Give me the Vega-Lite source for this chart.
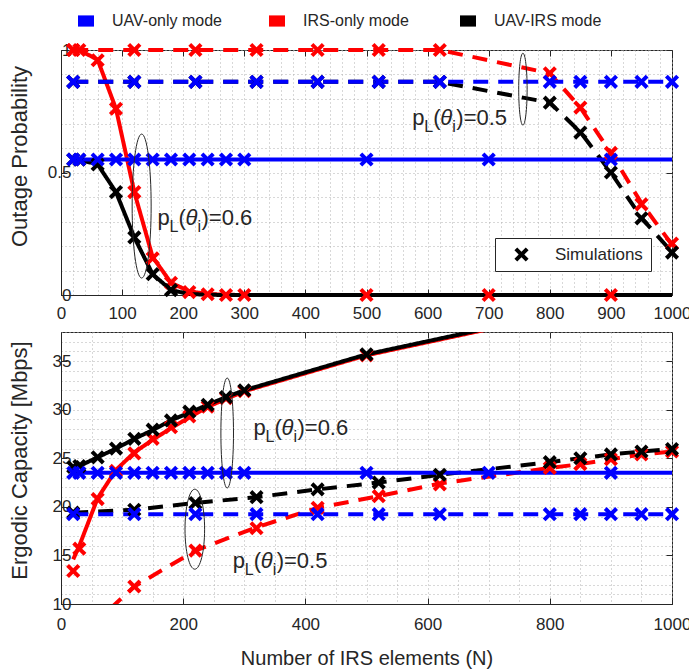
{
  "$schema": "https://vega.github.io/schema/vega-lite/v6.json",
  "autosize": {"type": "pad"},
  "padding": {"left": 7, "top": 13, "right": 0, "bottom": 0},
  "background": "white",
  "config": {
    "font": "Liberation Sans",
    "view": {"stroke": "#262626", "strokeWidth": 1},
    "axis": {
      "labelFont": "Liberation Sans",
      "labelFontSize": 17,
      "labelColor": "#262626",
      "titleFont": "Liberation Sans",
      "titleFontWeight": "normal",
      "titleColor": "#262626",
      "domainColor": "#262626",
      "tickColor": "#262626",
      "gridColor": "#b0b0b0",
      "gridDash": [1, 3],
      "gridWidth": 1,
      "tickSize": -6,
      "labelOverlap": false,
      "labelFlush": false
    }
  },
  "datasets": {
    "outage": [
      {"N": 20, "mode": "IRS-only mode", "p": "0.6", "ana": 1, "sim": 1},
      {"N": 30, "mode": "IRS-only mode", "p": "0.6", "ana": 1, "sim": 1},
      {"N": 60, "mode": "IRS-only mode", "p": "0.6", "ana": 0.96, "sim": 0.958},
      {"N": 90, "mode": "IRS-only mode", "p": "0.6", "ana": 0.76, "sim": 0.76},
      {"N": 120, "mode": "IRS-only mode", "p": "0.6", "ana": 0.42, "sim": 0.42},
      {"N": 150, "mode": "IRS-only mode", "p": "0.6", "ana": 0.155, "sim": 0.15},
      {"N": 180, "mode": "IRS-only mode", "p": "0.6", "ana": 0.05, "sim": 0.05},
      {"N": 210, "mode": "IRS-only mode", "p": "0.6", "ana": 0.015, "sim": 0.012},
      {"N": 240, "mode": "IRS-only mode", "p": "0.6", "ana": 0.004, "sim": 0.003},
      {"N": 270, "mode": "IRS-only mode", "p": "0.6", "ana": 0.001, "sim": 0},
      {"N": 300, "mode": "IRS-only mode", "p": "0.6", "ana": 0, "sim": 0},
      {"N": 500, "mode": "IRS-only mode", "p": "0.6", "ana": 0, "sim": 0},
      {"N": 700, "mode": "IRS-only mode", "p": "0.6", "ana": 0, "sim": 0},
      {"N": 900, "mode": "IRS-only mode", "p": "0.6", "ana": 0, "sim": 0},
      {"N": 1000, "mode": "IRS-only mode", "p": "0.6", "ana": 0, "sim": null},
      {"N": 20, "mode": "IRS-only mode", "p": "0.5", "ana": 1, "sim": 1},
      {"N": 120, "mode": "IRS-only mode", "p": "0.5", "ana": 1, "sim": 1},
      {"N": 220, "mode": "IRS-only mode", "p": "0.5", "ana": 1, "sim": 1},
      {"N": 320, "mode": "IRS-only mode", "p": "0.5", "ana": 1, "sim": 1},
      {"N": 420, "mode": "IRS-only mode", "p": "0.5", "ana": 1, "sim": 1},
      {"N": 520, "mode": "IRS-only mode", "p": "0.5", "ana": 1, "sim": 1},
      {"N": 620, "mode": "IRS-only mode", "p": "0.5", "ana": 1, "sim": 1},
      {"N": 800, "mode": "IRS-only mode", "p": "0.5", "ana": 0.905, "sim": 0.905},
      {"N": 850, "mode": "IRS-only mode", "p": "0.5", "ana": 0.765, "sim": 0.765},
      {"N": 900, "mode": "IRS-only mode", "p": "0.5", "ana": 0.58, "sim": 0.58},
      {"N": 950, "mode": "IRS-only mode", "p": "0.5", "ana": 0.375, "sim": 0.37},
      {"N": 1000, "mode": "IRS-only mode", "p": "0.5", "ana": 0.205, "sim": 0.21},
      {"N": 20, "mode": "UAV-IRS mode", "p": "0.6", "ana": 0.553, "sim": 0.553},
      {"N": 30, "mode": "UAV-IRS mode", "p": "0.6", "ana": 0.552, "sim": 0.552},
      {"N": 60, "mode": "UAV-IRS mode", "p": "0.6", "ana": 0.533, "sim": 0.533},
      {"N": 90, "mode": "UAV-IRS mode", "p": "0.6", "ana": 0.42, "sim": 0.42},
      {"N": 120, "mode": "UAV-IRS mode", "p": "0.6", "ana": 0.235, "sim": 0.235},
      {"N": 150, "mode": "UAV-IRS mode", "p": "0.6", "ana": 0.085, "sim": 0.085},
      {"N": 180, "mode": "UAV-IRS mode", "p": "0.6", "ana": 0.02, "sim": 0.02},
      {"N": 210, "mode": "UAV-IRS mode", "p": "0.6", "ana": 0.004, "sim": null},
      {"N": 240, "mode": "UAV-IRS mode", "p": "0.6", "ana": 0.001, "sim": null},
      {"N": 270, "mode": "UAV-IRS mode", "p": "0.6", "ana": 0, "sim": null},
      {"N": 300, "mode": "UAV-IRS mode", "p": "0.6", "ana": 0, "sim": null},
      {"N": 500, "mode": "UAV-IRS mode", "p": "0.6", "ana": 0, "sim": null},
      {"N": 700, "mode": "UAV-IRS mode", "p": "0.6", "ana": 0, "sim": null},
      {"N": 900, "mode": "UAV-IRS mode", "p": "0.6", "ana": 0, "sim": null},
      {"N": 1000, "mode": "UAV-IRS mode", "p": "0.6", "ana": 0, "sim": null},
      {"N": 20, "mode": "UAV-IRS mode", "p": "0.5", "ana": 0.87, "sim": 0.87},
      {"N": 120, "mode": "UAV-IRS mode", "p": "0.5", "ana": 0.87, "sim": 0.87},
      {"N": 220, "mode": "UAV-IRS mode", "p": "0.5", "ana": 0.87, "sim": 0.87},
      {"N": 320, "mode": "UAV-IRS mode", "p": "0.5", "ana": 0.87, "sim": 0.87},
      {"N": 420, "mode": "UAV-IRS mode", "p": "0.5", "ana": 0.87, "sim": 0.87},
      {"N": 520, "mode": "UAV-IRS mode", "p": "0.5", "ana": 0.87, "sim": 0.87},
      {"N": 620, "mode": "UAV-IRS mode", "p": "0.5", "ana": 0.87, "sim": 0.87},
      {"N": 800, "mode": "UAV-IRS mode", "p": "0.5", "ana": 0.785, "sim": 0.785},
      {"N": 850, "mode": "UAV-IRS mode", "p": "0.5", "ana": 0.665, "sim": 0.663},
      {"N": 900, "mode": "UAV-IRS mode", "p": "0.5", "ana": 0.5, "sim": 0.5},
      {"N": 950, "mode": "UAV-IRS mode", "p": "0.5", "ana": 0.315, "sim": 0.313},
      {"N": 1000, "mode": "UAV-IRS mode", "p": "0.5", "ana": 0.175, "sim": 0.173},
      {"N": 20, "mode": "UAV-only mode", "p": "0.6", "ana": 0.553, "sim": 0.553},
      {"N": 30, "mode": "UAV-only mode", "p": "0.6", "ana": 0.553, "sim": 0.553},
      {"N": 60, "mode": "UAV-only mode", "p": "0.6", "ana": 0.553, "sim": 0.553},
      {"N": 90, "mode": "UAV-only mode", "p": "0.6", "ana": 0.553, "sim": 0.553},
      {"N": 120, "mode": "UAV-only mode", "p": "0.6", "ana": 0.553, "sim": 0.553},
      {"N": 150, "mode": "UAV-only mode", "p": "0.6", "ana": 0.553, "sim": 0.553},
      {"N": 180, "mode": "UAV-only mode", "p": "0.6", "ana": 0.553, "sim": 0.553},
      {"N": 210, "mode": "UAV-only mode", "p": "0.6", "ana": 0.553, "sim": 0.553},
      {"N": 240, "mode": "UAV-only mode", "p": "0.6", "ana": 0.553, "sim": 0.553},
      {"N": 270, "mode": "UAV-only mode", "p": "0.6", "ana": 0.553, "sim": 0.553},
      {"N": 300, "mode": "UAV-only mode", "p": "0.6", "ana": 0.553, "sim": 0.553},
      {"N": 500, "mode": "UAV-only mode", "p": "0.6", "ana": 0.553, "sim": 0.553},
      {"N": 700, "mode": "UAV-only mode", "p": "0.6", "ana": 0.553, "sim": 0.553},
      {"N": 900, "mode": "UAV-only mode", "p": "0.6", "ana": 0.553, "sim": 0.553},
      {"N": 1000, "mode": "UAV-only mode", "p": "0.6", "ana": 0.553, "sim": null},
      {"N": 20, "mode": "UAV-only mode", "p": "0.5", "ana": 0.87, "sim": 0.87},
      {"N": 120, "mode": "UAV-only mode", "p": "0.5", "ana": 0.87, "sim": 0.87},
      {"N": 220, "mode": "UAV-only mode", "p": "0.5", "ana": 0.87, "sim": 0.87},
      {"N": 320, "mode": "UAV-only mode", "p": "0.5", "ana": 0.87, "sim": 0.87},
      {"N": 420, "mode": "UAV-only mode", "p": "0.5", "ana": 0.87, "sim": 0.87},
      {"N": 520, "mode": "UAV-only mode", "p": "0.5", "ana": 0.87, "sim": 0.87},
      {"N": 620, "mode": "UAV-only mode", "p": "0.5", "ana": 0.87, "sim": 0.87},
      {"N": 800, "mode": "UAV-only mode", "p": "0.5", "ana": 0.87, "sim": 0.87},
      {"N": 850, "mode": "UAV-only mode", "p": "0.5", "ana": 0.87, "sim": 0.87},
      {"N": 900, "mode": "UAV-only mode", "p": "0.5", "ana": 0.87, "sim": 0.87},
      {"N": 950, "mode": "UAV-only mode", "p": "0.5", "ana": 0.87, "sim": 0.87},
      {"N": 1000, "mode": "UAV-only mode", "p": "0.5", "ana": 0.87, "sim": 0.87}
    ],
    "capacity": [
      {"N": 20, "mode": "IRS-only mode", "p": "0.6", "ana": 14.6, "sim": 13.4},
      {"N": 30, "mode": "IRS-only mode", "p": "0.6", "ana": 16.0, "sim": 15.7},
      {"N": 60, "mode": "IRS-only mode", "p": "0.6", "ana": 20.9, "sim": 20.8},
      {"N": 90, "mode": "IRS-only mode", "p": "0.6", "ana": 23.8, "sim": 23.7},
      {"N": 120, "mode": "IRS-only mode", "p": "0.6", "ana": 25.6, "sim": 25.5},
      {"N": 150, "mode": "IRS-only mode", "p": "0.6", "ana": 26.9, "sim": 27.0},
      {"N": 180, "mode": "IRS-only mode", "p": "0.6", "ana": 28.1, "sim": 28.2},
      {"N": 210, "mode": "IRS-only mode", "p": "0.6", "ana": 29.2, "sim": 29.3},
      {"N": 240, "mode": "IRS-only mode", "p": "0.6", "ana": 30.3, "sim": 30.3},
      {"N": 270, "mode": "IRS-only mode", "p": "0.6", "ana": 31.1, "sim": 31.2},
      {"N": 300, "mode": "IRS-only mode", "p": "0.6", "ana": 31.9, "sim": 31.9},
      {"N": 500, "mode": "IRS-only mode", "p": "0.6", "ana": 35.6, "sim": 35.6},
      {"N": 700, "mode": "IRS-only mode", "p": "0.6", "ana": 38.3, "sim": null},
      {"N": 900, "mode": "IRS-only mode", "p": "0.6", "ana": 40.6, "sim": null},
      {"N": 1000, "mode": "IRS-only mode", "p": "0.6", "ana": 41.5, "sim": null},
      {"N": 20, "mode": "IRS-only mode", "p": "0.5", "ana": 6.0, "sim": null},
      {"N": 120, "mode": "IRS-only mode", "p": "0.5", "ana": 11.8, "sim": 11.8},
      {"N": 220, "mode": "IRS-only mode", "p": "0.5", "ana": 15.5, "sim": 15.5},
      {"N": 320, "mode": "IRS-only mode", "p": "0.5", "ana": 17.9, "sim": 17.8},
      {"N": 420, "mode": "IRS-only mode", "p": "0.5", "ana": 19.9, "sim": 19.9},
      {"N": 520, "mode": "IRS-only mode", "p": "0.5", "ana": 21.1, "sim": 21.1},
      {"N": 620, "mode": "IRS-only mode", "p": "0.5", "ana": 22.4, "sim": 22.3},
      {"N": 800, "mode": "IRS-only mode", "p": "0.5", "ana": 24.0, "sim": 24.0},
      {"N": 850, "mode": "IRS-only mode", "p": "0.5", "ana": 24.4, "sim": 24.4},
      {"N": 900, "mode": "IRS-only mode", "p": "0.5", "ana": 24.9, "sim": 24.9},
      {"N": 950, "mode": "IRS-only mode", "p": "0.5", "ana": 25.4, "sim": 25.4},
      {"N": 1000, "mode": "IRS-only mode", "p": "0.5", "ana": 25.7, "sim": 25.7},
      {"N": 20, "mode": "UAV-IRS mode", "p": "0.6", "ana": 24.0, "sim": 24.1},
      {"N": 30, "mode": "UAV-IRS mode", "p": "0.6", "ana": 24.2, "sim": 24.2},
      {"N": 60, "mode": "UAV-IRS mode", "p": "0.6", "ana": 25.1, "sim": 25.1},
      {"N": 90, "mode": "UAV-IRS mode", "p": "0.6", "ana": 26.0, "sim": 26.0},
      {"N": 120, "mode": "UAV-IRS mode", "p": "0.6", "ana": 27.0, "sim": 27.0},
      {"N": 150, "mode": "UAV-IRS mode", "p": "0.6", "ana": 27.9, "sim": 27.95},
      {"N": 180, "mode": "UAV-IRS mode", "p": "0.6", "ana": 28.9, "sim": 28.9},
      {"N": 210, "mode": "UAV-IRS mode", "p": "0.6", "ana": 29.7, "sim": 29.8},
      {"N": 240, "mode": "UAV-IRS mode", "p": "0.6", "ana": 30.5, "sim": 30.5},
      {"N": 270, "mode": "UAV-IRS mode", "p": "0.6", "ana": 31.3, "sim": 31.3},
      {"N": 300, "mode": "UAV-IRS mode", "p": "0.6", "ana": 32.0, "sim": 32.0},
      {"N": 500, "mode": "UAV-IRS mode", "p": "0.6", "ana": 35.7, "sim": 35.7},
      {"N": 700, "mode": "UAV-IRS mode", "p": "0.6", "ana": 38.4, "sim": null},
      {"N": 900, "mode": "UAV-IRS mode", "p": "0.6", "ana": 40.7, "sim": null},
      {"N": 1000, "mode": "UAV-IRS mode", "p": "0.6", "ana": 41.6, "sim": null},
      {"N": 20, "mode": "UAV-IRS mode", "p": "0.5", "ana": 19.4, "sim": 19.4},
      {"N": 120, "mode": "UAV-IRS mode", "p": "0.5", "ana": 19.7, "sim": 19.7},
      {"N": 220, "mode": "UAV-IRS mode", "p": "0.5", "ana": 20.4, "sim": 20.4},
      {"N": 320, "mode": "UAV-IRS mode", "p": "0.5", "ana": 21.0, "sim": 21.0},
      {"N": 420, "mode": "UAV-IRS mode", "p": "0.5", "ana": 21.8, "sim": 21.8},
      {"N": 520, "mode": "UAV-IRS mode", "p": "0.5", "ana": 22.5, "sim": 22.5},
      {"N": 620, "mode": "UAV-IRS mode", "p": "0.5", "ana": 23.3, "sim": 23.3},
      {"N": 800, "mode": "UAV-IRS mode", "p": "0.5", "ana": 24.6, "sim": 24.6},
      {"N": 850, "mode": "UAV-IRS mode", "p": "0.5", "ana": 25.0, "sim": 25.0},
      {"N": 900, "mode": "UAV-IRS mode", "p": "0.5", "ana": 25.4, "sim": 25.4},
      {"N": 950, "mode": "UAV-IRS mode", "p": "0.5", "ana": 25.7, "sim": 25.7},
      {"N": 1000, "mode": "UAV-IRS mode", "p": "0.5", "ana": 25.95, "sim": 25.95},
      {"N": 20, "mode": "UAV-only mode", "p": "0.6", "ana": 23.5, "sim": 23.5},
      {"N": 30, "mode": "UAV-only mode", "p": "0.6", "ana": 23.5, "sim": 23.5},
      {"N": 60, "mode": "UAV-only mode", "p": "0.6", "ana": 23.5, "sim": 23.5},
      {"N": 90, "mode": "UAV-only mode", "p": "0.6", "ana": 23.5, "sim": 23.5},
      {"N": 120, "mode": "UAV-only mode", "p": "0.6", "ana": 23.5, "sim": 23.5},
      {"N": 150, "mode": "UAV-only mode", "p": "0.6", "ana": 23.5, "sim": 23.5},
      {"N": 180, "mode": "UAV-only mode", "p": "0.6", "ana": 23.5, "sim": 23.5},
      {"N": 210, "mode": "UAV-only mode", "p": "0.6", "ana": 23.5, "sim": 23.5},
      {"N": 240, "mode": "UAV-only mode", "p": "0.6", "ana": 23.5, "sim": 23.5},
      {"N": 270, "mode": "UAV-only mode", "p": "0.6", "ana": 23.5, "sim": 23.5},
      {"N": 300, "mode": "UAV-only mode", "p": "0.6", "ana": 23.5, "sim": 23.5},
      {"N": 500, "mode": "UAV-only mode", "p": "0.6", "ana": 23.5, "sim": 23.5},
      {"N": 700, "mode": "UAV-only mode", "p": "0.6", "ana": 23.5, "sim": 23.5},
      {"N": 900, "mode": "UAV-only mode", "p": "0.6", "ana": 23.5, "sim": 23.5},
      {"N": 1000, "mode": "UAV-only mode", "p": "0.6", "ana": 23.5, "sim": null},
      {"N": 20, "mode": "UAV-only mode", "p": "0.5", "ana": 19.25, "sim": 19.25},
      {"N": 120, "mode": "UAV-only mode", "p": "0.5", "ana": 19.25, "sim": 19.25},
      {"N": 220, "mode": "UAV-only mode", "p": "0.5", "ana": 19.25, "sim": 19.25},
      {"N": 320, "mode": "UAV-only mode", "p": "0.5", "ana": 19.25, "sim": 19.25},
      {"N": 420, "mode": "UAV-only mode", "p": "0.5", "ana": 19.25, "sim": 19.25},
      {"N": 520, "mode": "UAV-only mode", "p": "0.5", "ana": 19.25, "sim": 19.25},
      {"N": 620, "mode": "UAV-only mode", "p": "0.5", "ana": 19.25, "sim": 19.25},
      {"N": 800, "mode": "UAV-only mode", "p": "0.5", "ana": 19.25, "sim": 19.25},
      {"N": 850, "mode": "UAV-only mode", "p": "0.5", "ana": 19.25, "sim": 19.25},
      {"N": 900, "mode": "UAV-only mode", "p": "0.5", "ana": 19.25, "sim": 19.25},
      {"N": 950, "mode": "UAV-only mode", "p": "0.5", "ana": 19.25, "sim": 19.25},
      {"N": 1000, "mode": "UAV-only mode", "p": "0.5", "ana": 19.25, "sim": 19.25}
    ],
    "ellipses": [
      {"id": "e1", "N": 132, "v": 0.363},
      {"id": "e2", "N": 756, "v": 0.84},
      {"id": "e3", "N": 272, "v": 27.6},
      {"id": "e4", "N": 219, "v": 17.7}
    ],
    "notes": [
      {"panel": "top", "N": 158, "v": 0.286, "tail": ")=0.6"},
      {"panel": "top", "N": 575, "v": 0.694, "tail": ")=0.5"},
      {"panel": "bottom", "N": 315, "v": 27.4, "tail": ")=0.6"},
      {"panel": "bottom", "N": 281, "v": 13.7, "tail": ")=0.5"}
    ]
  },
  "bounds": "flush",
  "spacing": 37,
  "resolve": {"scale": {"color": "shared", "strokeDash": "shared", "shape": "shared"}},
  "vconcat": [
    {
      "width": 611,
      "height": 245,
      "resolve": {"axis": {"x": "independent", "y": "independent"}},
      "layer": [
        {
          "data": {"name": "outage"},
          "mark": {"type": "line", "strokeWidth": 4, "strokeCap": "butt", "strokeJoin": "round"},
          "encoding": {
            "x": {"field": "N", "type": "quantitative", "scale": {"domain": [0, 1000], "nice": false},
              "axis": {"title": null, "values": [0,20,40,60,80,100,120,140,160,180,200,220,240,260,280,300,320,340,360,380,400,420,440,460,480,500,520,540,560,580,600,620,640,660,680,700,720,740,760,780,800,820,840,860,880,900,920,940,960,980,1000],
                "labelExpr": "datum.value % 100 == 0 ? format(datum.value, 'd') : ''",
                "tickOpacity": {"condition": {"test": "datum.value % 100 == 0", "value": 1}, "value": 0},
                "grid": true, "labelPadding": 16}},
            "y": {"field": "ana", "type": "quantitative", "scale": {"domain": [0, 1], "nice": false},
              "axis": {"title": "Outage Probability", "titleFontSize": 22, "titleX": -35, "titleY": 106, "titleBaseline": "alphabetic",
                "values": [0, 0.1, 0.2, 0.3, 0.4, 0.5, 0.6, 0.7, 0.8, 0.9, 1],
                "labelExpr": "datum.value == 0 ? '0' : datum.value == 0.5 ? '0.5' : datum.value == 1 ? '1' : ''",
                "tickOpacity": {"condition": {"test": "datum.value == 0 || datum.value == 0.5 || datum.value == 1", "value": 1}, "value": 0},
                "grid": true, "labelPadding": -4}},
            "color": {"field": "mode", "type": "nominal",
              "scale": {"domain": ["UAV-only mode", "IRS-only mode", "UAV-IRS mode"], "range": ["#0000ff", "#ff0000", "#000000"]},
              "legend": {"title": null, "orient": "none", "legendX": 17, "legendY": -37, "direction": "horizontal", "columns": 3,
                "gridAlign": "all", "columnPadding": 47, "padding": 0,
                "symbolType": "M -1 -0.7 L 1 -0.7 L 1 0.7 L -1 0.7 Z", "symbolSize": 256, "symbolStrokeWidth": 0,
                "labelFont": "Liberation Sans", "labelFontSize": 16, "labelColor": "#262626", "labelOffset": 18,
                "encode": {"symbols": {"update": {"fill": {"scale": "color", "field": "value"}, "shape": {"value": "M -1 -0.7 L 1 -0.7 L 1 0.7 L -1 0.7 Z"}, "opacity": {"value": 1}, "strokeWidth": {"value": 0}}}}}},
            "strokeDash": {"field": "p", "type": "nominal", "scale": {"domain": ["0.6", "0.5"], "range": [[1, 0], [15, 10]]}, "legend": null}
          }
        },
        {
          "data": {"name": "outage"},
          "mark": {"type": "point", "filled": true, "size": 200, "opacity": 1, "strokeWidth": 0},
          "encoding": {
            "x": {"field": "N", "type": "quantitative", "axis": null},
            "y": {"field": "sim", "type": "quantitative", "axis": null},
            "color": {"field": "mode", "type": "nominal"},
            "shape": {"datum": "Simulations", "type": "nominal",
              "scale": {"domain": ["Simulations"], "range": ["M -1 -0.6 L -0.6 -1 L 0 -0.4 L 0.6 -1 L 1 -0.6 L 0.4 0 L 1 0.6 L 0.6 1 L 0 0.4 L -0.6 1 L -1 0.6 L -0.4 0 Z"]},
              "legend": {"title": null, "orient": "none", "legendX": 434, "legendY": 188, "padding": 8,
                "strokeColor": "#262626", "fillColor": "white", "cornerRadius": 0,
                "symbolSize": 200, "symbolFillColor": "black", "symbolStrokeWidth": 0, "symbolOffset": 10,
                "labelFont": "Liberation Sans", "labelFontSize": 17, "labelColor": "#262626", "labelOffset": 25}}
          }
        },
        {
          "data": {"name": "ellipses"},
          "transform": [{"filter": "datum.id == 'e1'"}],
          "mark": {"type": "point", "filled": false, "stroke": "#262626", "strokeWidth": 1, "opacity": 1, "size": 20736,
            "shape": "M 0.132 0 C 0.132 0.5523 0.0729 1 0 1 C -0.0729 1 -0.132 0.5523 -0.132 0 C -0.132 -0.5523 -0.0729 -1 0 -1 C 0.0729 -1 0.132 -0.5523 0.132 0 Z"},
          "encoding": {
            "x": {"field": "N", "type": "quantitative", "axis": null},
            "y": {"field": "v", "type": "quantitative", "axis": null}
          }
        },
        {
          "data": {"name": "ellipses"},
          "transform": [{"filter": "datum.id == 'e2'"}],
          "mark": {"type": "point", "filled": false, "stroke": "#262626", "strokeWidth": 1, "opacity": 1, "size": 5184,
            "shape": "M 0.117 0 C 0.117 0.5523 0.0646 1 0 1 C -0.0646 1 -0.117 0.5523 -0.117 0 C -0.117 -0.5523 -0.0646 -1 0 -1 C 0.0646 -1 0.117 -0.5523 0.117 0 Z"},
          "encoding": {
            "x": {"field": "N", "type": "quantitative", "axis": null},
            "y": {"field": "v", "type": "quantitative", "axis": null}
          }
        },
        {
          "data": {"name": "notes"},
          "transform": [{"filter": "datum.panel == 'top'"}],
          "mark": {"type": "text", "text": "p", "align": "left", "baseline": "alphabetic", "font": "Liberation Sans", "fontSize": 22, "color": "#262626"},
          "encoding": {"x": {"field": "N", "type": "quantitative", "axis": null}, "y": {"field": "v", "type": "quantitative", "axis": null}}
        },
        {
          "data": {"name": "notes"},
          "transform": [{"filter": "datum.panel == 'top'"}],
          "mark": {"type": "text", "text": "L", "align": "left", "baseline": "alphabetic", "font": "Liberation Sans", "fontSize": 16, "dx": 12, "dy": 7, "color": "#262626"},
          "encoding": {"x": {"field": "N", "type": "quantitative", "axis": null}, "y": {"field": "v", "type": "quantitative", "axis": null}}
        },
        {
          "data": {"name": "notes"},
          "transform": [{"filter": "datum.panel == 'top'"}],
          "mark": {"type": "text", "text": "(", "align": "left", "baseline": "alphabetic", "font": "Liberation Sans", "fontSize": 22, "dx": 21, "color": "#262626"},
          "encoding": {"x": {"field": "N", "type": "quantitative", "axis": null}, "y": {"field": "v", "type": "quantitative", "axis": null}}
        },
        {
          "data": {"name": "notes"},
          "transform": [{"filter": "datum.panel == 'top'"}],
          "mark": {"type": "text", "text": "θ", "align": "left", "baseline": "alphabetic", "font": "Liberation Sans", "fontSize": 22, "fontStyle": "italic", "dx": 28, "color": "#262626"},
          "encoding": {"x": {"field": "N", "type": "quantitative", "axis": null}, "y": {"field": "v", "type": "quantitative", "axis": null}}
        },
        {
          "data": {"name": "notes"},
          "transform": [{"filter": "datum.panel == 'top'"}],
          "mark": {"type": "text", "text": "i", "align": "left", "baseline": "alphabetic", "font": "Liberation Sans", "fontSize": 16, "dx": 40, "dy": 7, "color": "#262626"},
          "encoding": {"x": {"field": "N", "type": "quantitative", "axis": null}, "y": {"field": "v", "type": "quantitative", "axis": null}}
        },
        {
          "data": {"name": "notes"},
          "transform": [{"filter": "datum.panel == 'top'"}],
          "mark": {"type": "text", "align": "left", "baseline": "alphabetic", "font": "Liberation Sans", "fontSize": 22, "dx": 44, "color": "#262626"},
          "encoding": {"x": {"field": "N", "type": "quantitative", "axis": null}, "y": {"field": "v", "type": "quantitative", "axis": null}, "text": {"field": "tail"}}
        },
        {
          "data": {"name": "notes"},
          "transform": [{"filter": "datum.panel == 'top'"}],
          "mark": {"type": "point", "opacity": 0},
          "encoding": {
            "x": {"field": "N", "type": "quantitative",
              "axis": {"orient": "top", "title": null, "labels": false, "grid": false, "domain": false, "values": [0,100,200,300,400,500,600,700,800,900,1000]}},
            "y": {"field": "v", "type": "quantitative",
              "axis": {"orient": "right", "title": null, "labels": false, "grid": false, "domain": false, "values": [0, 0.5, 1]}}
          }
        }
      ]
    },
    {
      "width": 611,
      "height": 272,
      "resolve": {"axis": {"x": "independent", "y": "independent"}},
      "layer": [
        {
          "data": {"name": "capacity"},
          "mark": {"type": "line", "strokeWidth": 4, "strokeCap": "butt", "strokeJoin": "round", "clip": true},
          "encoding": {
            "x": {"field": "N", "type": "quantitative", "scale": {"domain": [0, 1000], "nice": false},
              "axis": {"title": "Number of IRS elements (N)", "titleFont": "Liberation Sans", "titleFontSize": 20, "titleY": 60, "titleBaseline": "alphabetic",
                "values": [0,50,100,150,200,250,300,350,400,450,500,550,600,650,700,750,800,850,900,950,1000],
                "labelExpr": "datum.value % 200 == 0 ? format(datum.value, 'd') : ''",
                "tickOpacity": {"condition": {"test": "datum.value % 200 == 0", "value": 1}, "value": 0},
                "grid": true, "labelPadding": 18}},
            "y": {"field": "ana", "type": "quantitative", "scale": {"domain": [10, 38], "nice": false},
              "axis": {"title": "Ergodic Capacity [Mbps]", "titleFontSize": 22, "titleX": -35, "titleY": 128, "titleBaseline": "alphabetic",
                "values": [10,11,12,13,14,15,16,17,18,19,20,21,22,23,24,25,26,27,28,29,30,31,32,33,34,35,36,37,38],
                "labelExpr": "datum.value % 5 == 0 ? format(datum.value, 'd') : ''",
                "tickOpacity": {"condition": {"test": "datum.value % 5 == 0", "value": 1}, "value": 0},
                "grid": true, "labelPadding": -4}},
            "color": {"field": "mode", "type": "nominal"},
            "strokeDash": {"field": "p", "type": "nominal", "legend": null}
          }
        },
        {
          "data": {"name": "capacity"},
          "mark": {"type": "point", "filled": true, "size": 200, "opacity": 1, "strokeWidth": 0,
            "shape": "M -1 -0.6 L -0.6 -1 L 0 -0.4 L 0.6 -1 L 1 -0.6 L 0.4 0 L 1 0.6 L 0.6 1 L 0 0.4 L -0.6 1 L -1 0.6 L -0.4 0 Z"},
          "encoding": {
            "x": {"field": "N", "type": "quantitative", "axis": null},
            "y": {"field": "sim", "type": "quantitative", "axis": null},
            "color": {"field": "mode", "type": "nominal"}
          }
        },
        {
          "data": {"name": "ellipses"},
          "transform": [{"filter": "datum.id == 'e3'"}],
          "mark": {"type": "point", "filled": false, "stroke": "#262626", "strokeWidth": 1, "opacity": 1, "size": 12100,
            "shape": "M 0.1145 0 C 0.1145 0.5523 0.0632 1 0 1 C -0.0632 1 -0.1145 0.5523 -0.1145 0 C -0.1145 -0.5523 -0.0632 -1 0 -1 C 0.0632 -1 0.1145 -0.5523 0.1145 0 Z"},
          "encoding": {
            "x": {"field": "N", "type": "quantitative", "axis": null},
            "y": {"field": "v", "type": "quantitative", "axis": null}
          }
        },
        {
          "data": {"name": "ellipses"},
          "transform": [{"filter": "datum.id == 'e4'"}],
          "mark": {"type": "point", "filled": false, "stroke": "#262626", "strokeWidth": 1, "opacity": 1, "size": 6400,
            "shape": "M 0.245 0 C 0.245 0.5523 0.1353 1 0 1 C -0.1353 1 -0.245 0.5523 -0.245 0 C -0.245 -0.5523 -0.1353 -1 0 -1 C 0.1353 -1 0.245 -0.5523 0.245 0 Z"},
          "encoding": {
            "x": {"field": "N", "type": "quantitative", "axis": null},
            "y": {"field": "v", "type": "quantitative", "axis": null}
          }
        },
        {
          "data": {"name": "notes"},
          "transform": [{"filter": "datum.panel == 'bottom'"}],
          "mark": {"type": "text", "text": "p", "align": "left", "baseline": "alphabetic", "font": "Liberation Sans", "fontSize": 22, "color": "#262626"},
          "encoding": {"x": {"field": "N", "type": "quantitative", "axis": null}, "y": {"field": "v", "type": "quantitative", "axis": null}}
        },
        {
          "data": {"name": "notes"},
          "transform": [{"filter": "datum.panel == 'bottom'"}],
          "mark": {"type": "text", "text": "L", "align": "left", "baseline": "alphabetic", "font": "Liberation Sans", "fontSize": 16, "dx": 12, "dy": 7, "color": "#262626"},
          "encoding": {"x": {"field": "N", "type": "quantitative", "axis": null}, "y": {"field": "v", "type": "quantitative", "axis": null}}
        },
        {
          "data": {"name": "notes"},
          "transform": [{"filter": "datum.panel == 'bottom'"}],
          "mark": {"type": "text", "text": "(", "align": "left", "baseline": "alphabetic", "font": "Liberation Sans", "fontSize": 22, "dx": 21, "color": "#262626"},
          "encoding": {"x": {"field": "N", "type": "quantitative", "axis": null}, "y": {"field": "v", "type": "quantitative", "axis": null}}
        },
        {
          "data": {"name": "notes"},
          "transform": [{"filter": "datum.panel == 'bottom'"}],
          "mark": {"type": "text", "text": "θ", "align": "left", "baseline": "alphabetic", "font": "Liberation Sans", "fontSize": 22, "fontStyle": "italic", "dx": 28, "color": "#262626"},
          "encoding": {"x": {"field": "N", "type": "quantitative", "axis": null}, "y": {"field": "v", "type": "quantitative", "axis": null}}
        },
        {
          "data": {"name": "notes"},
          "transform": [{"filter": "datum.panel == 'bottom'"}],
          "mark": {"type": "text", "text": "i", "align": "left", "baseline": "alphabetic", "font": "Liberation Sans", "fontSize": 16, "dx": 40, "dy": 7, "color": "#262626"},
          "encoding": {"x": {"field": "N", "type": "quantitative", "axis": null}, "y": {"field": "v", "type": "quantitative", "axis": null}}
        },
        {
          "data": {"name": "notes"},
          "transform": [{"filter": "datum.panel == 'bottom'"}],
          "mark": {"type": "text", "align": "left", "baseline": "alphabetic", "font": "Liberation Sans", "fontSize": 22, "dx": 44, "color": "#262626"},
          "encoding": {"x": {"field": "N", "type": "quantitative", "axis": null}, "y": {"field": "v", "type": "quantitative", "axis": null}, "text": {"field": "tail"}}
        },
        {
          "data": {"name": "notes"},
          "transform": [{"filter": "datum.panel == 'bottom'"}],
          "mark": {"type": "point", "opacity": 0},
          "encoding": {
            "x": {"field": "N", "type": "quantitative",
              "axis": {"orient": "top", "title": null, "labels": false, "grid": false, "domain": false, "values": [0,200,400,600,800,1000]}},
            "y": {"field": "v", "type": "quantitative",
              "axis": {"orient": "right", "title": null, "labels": false, "grid": false, "domain": false, "values": [10,15,20,25,30,35]}}
          }
        }
      ]
    }
  ]
}
